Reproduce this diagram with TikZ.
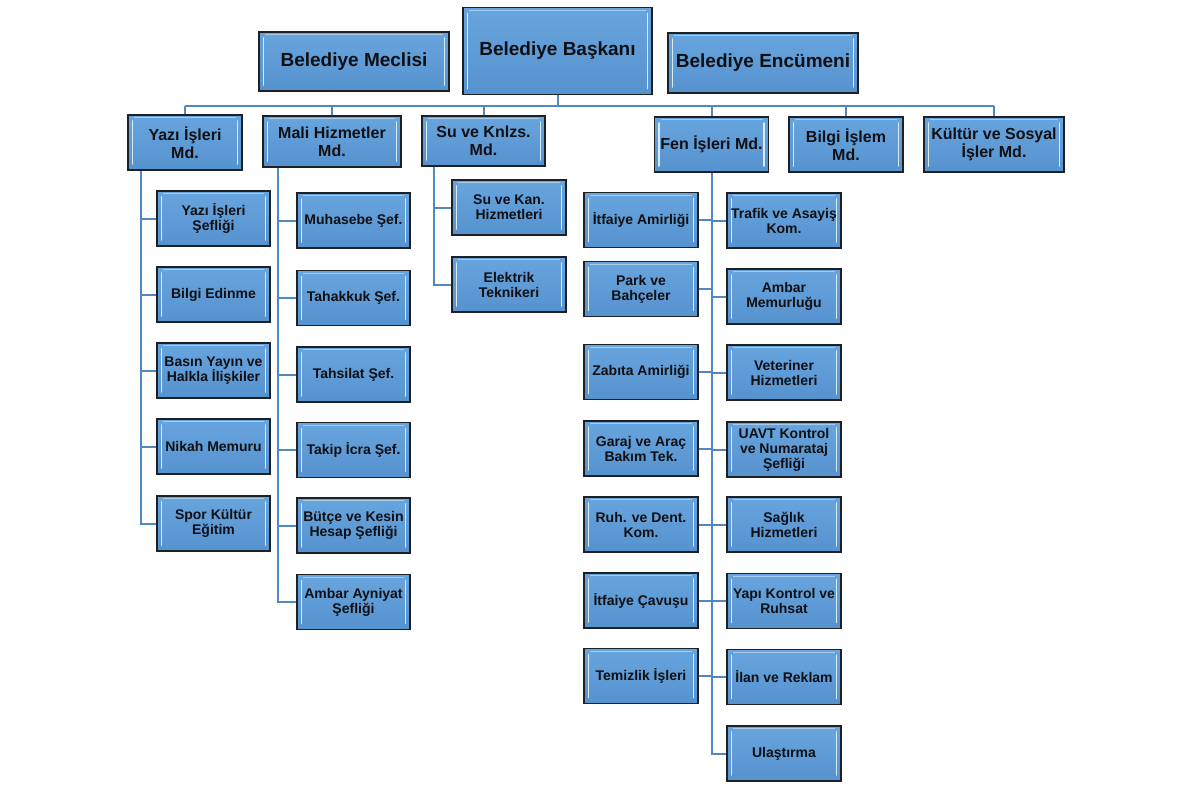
\documentclass[tikz,border=0pt]{standalone}
\usepackage{fontspec}
\setmainfont{Liberation Sans}
\definecolor{boxfill}{RGB}{93,155,214}
\definecolor{boxtop}{RGB}{104,165,222}
\definecolor{boxbot}{RGB}{86,146,206}
\definecolor{boxedge}{RGB}{30,32,36}
\definecolor{bevelhi}{RGB}{214,236,251}
\definecolor{linkcol}{RGB}{80,136,196}
\definecolor{txtcol}{RGB}{16,16,20}
\tikzset{
  orgbox/.style={rectangle, draw=boxedge, line width=1.3pt, top color=boxtop, bottom color=boxbot,
    align=center, inner sep=0pt, text=txtcol,
    path picture={
      \draw[bevelhi, line width=1.6pt, line cap=round]
        ([xshift=4.5pt,yshift=-6pt]path picture bounding box.north west) --
        ([xshift=4.5pt,yshift=6pt]path picture bounding box.south west);
      \draw[bevelhi, line width=1.6pt, line cap=round]
        ([xshift=-4.5pt,yshift=-6pt]path picture bounding box.north east) --
        ([xshift=-4.5pt,yshift=6pt]path picture bounding box.south east);
      \draw[bevelhi!60!boxfill, line width=0.8pt]
        ([xshift=6pt,yshift=-2.5pt]path picture bounding box.north west) --
        ([xshift=-6pt,yshift=-2.5pt]path picture bounding box.north east);
    }},
  topbox/.style={orgbox, font=\bfseries\fontsize{19}{21}\selectfont},
  mdbox/.style={orgbox, minimum width=114pt, font=\bfseries\fontsize{16}{18}\selectfont},
  subbox/.style={orgbox, minimum width=113pt, minimum height=55pt, font=\bfseries\fontsize{14}{15}\selectfont},
  link/.style={draw=linkcol, line width=2pt}
}
\begin{document}
\begin{tikzpicture}[x=1pt,y=-1pt]
\useasboundingbox (0,0) rectangle (1200,800);
% top level
\node[topbox, minimum width=190pt, minimum height=59pt] (mec) at (354,61.5) {Belediye Meclisi};
\node[topbox, minimum width=189pt, minimum height=87pt] (bas) at (557.5,51) {Belediye Başkanı};
\node[topbox, minimum width=190pt, minimum height=60pt] (enc) at (763,63) {Belediye Encümeni};
% directorates
\node[mdbox, minimum height=55pt] (yaz) at (185,142.5) {Yazı İşleri\\Md.};
\node[mdbox, minimum width=138pt, minimum height=51pt] (mal) at (332,141.5) {Mali Hizmetler\\Md.};
\node[mdbox, minimum width=123pt, minimum height=50pt] (su) at (483.5,141) {Su ve Knlzs.\\Md.};
\node[mdbox, minimum height=55pt] (fen) at (711.5,144.5) {Fen İşleri Md.};
\node[mdbox, minimum height=55pt] (bil) at (846,144.5) {Bilgi İşlem\\Md.};
\node[mdbox, minimum width=140pt, minimum height=55pt] (kul) at (994,144.5) {Kültür ve Sosyal\\İşler Md.};
% bus
\coordinate (busl) at (185,105.5);
\coordinate (busr) at (994,105.5);
\draw[link] (busl) -- (busr);
\draw[link] (bas.south) -- (bas.south |- busl);
\foreach \n in {yaz,mal,su,fen,bil,kul} {\draw[link] (\n.north) -- (\n.north |- busl);}
% Yazı İşleri children
\node[subbox] (y1) at (213.5,218.5) {Yazı İşleri\\Şefliği};
\node[subbox] (y2) at (213.5,294.5) {Bilgi Edinme};
\node[subbox] (y3) at (213.5,370.5) {Basın Yayın ve\\Halkla İlişkiler};
\node[subbox] (y4) at (213.5,446.5) {Nikah Memuru};
\node[subbox] (y5) at (213.5,523.5) {Spor Kültür\\Eğitim};
\coordinate (ys) at (141,0);
\draw[link] (yaz.south -| ys) |- (y5.west);
\foreach \n in {y1,y2,y3,y4} {\draw[link] (\n.west) -- (\n.west -| ys);}
% Mali children
\node[subbox] (m1) at (353.5,220.5) {Muhasebe Şef.};
\node[subbox] (m2) at (353.5,298) {Tahakkuk Şef.};
\node[subbox] (m3) at (353.5,374.5) {Tahsilat Şef.};
\node[subbox] (m4) at (353.5,450) {Takip İcra Şef.};
\node[subbox] (m5) at (353.5,525.5) {Bütçe ve Kesin\\Hesap Şefliği};
\node[subbox] (m6) at (353.5,602) {Ambar Ayniyat\\Şefliği};
\coordinate (ms) at (278,0);
\draw[link] (mal.south -| ms) |- (m6.west);
\foreach \n in {m1,m2,m3,m4,m5} {\draw[link] (\n.west) -- (\n.west -| ms);}
% Su children
\node[subbox, minimum width=114pt] (s1) at (509,207.5) {Su ve Kan.\\Hizmetleri};
\node[subbox, minimum width=114pt] (s2) at (509,284.5) {Elektrik\\Teknikeri};
\coordinate (ss) at (434,0);
\draw[link] (su.south -| ss) |- (s2.west);
\draw[link] (s1.west) -- (s1.west -| ss);
% Fen children
\node[subbox, minimum width=114pt] (fl1) at (641,220) {İtfaiye Amirliği};
\node[subbox, minimum width=114pt] (fl2) at (641,289) {Park ve\\Bahçeler};
\node[subbox, minimum width=114pt] (fl3) at (641,372) {Zabıta Amirliği};
\node[subbox, minimum width=114pt] (fl4) at (641,448.5) {Garaj ve Araç\\Bakım Tek.};
\node[subbox, minimum width=114pt] (fl5) at (641,524.5) {Ruh. ve Dent.\\Kom.};
\node[subbox, minimum width=114pt] (fl6) at (641,600.5) {İtfaiye Çavuşu};
\node[subbox, minimum width=114pt] (fl7) at (641,676) {Temizlik İşleri};
\node[subbox, minimum width=114pt] (fr1) at (784,220.5) {Trafik ve Asayiş\\Kom.};
\node[subbox, minimum width=114pt] (fr2) at (784,296.5) {Ambar\\Memurluğu};
\node[subbox, minimum width=114pt] (fr3) at (784,372.5) {Veteriner\\Hizmetleri};
\node[subbox, minimum width=114pt] (fr4) at (784,449.5) {UAVT Kontrol\\ve Numarataj\\Şefliği};
\node[subbox, minimum width=114pt] (fr5) at (784,524.5) {Sağlık\\Hizmetleri};
\node[subbox, minimum width=114pt] (fr6) at (784,601) {Yapı Kontrol ve\\Ruhsat};
\node[subbox, minimum width=114pt] (fr7) at (784,677) {İlan ve Reklam};
\node[subbox, minimum width=114pt] (fr8) at (784,753.5) {Ulaştırma};
\coordinate (fs) at (712,0);
\draw[link] (fen.south -| fs) |- (fr8.west);
\foreach \n in {fl1,fl2,fl3,fl4,fl5,fl6,fl7} {\draw[link] (\n.east) -- (\n.east -| fs);}
\foreach \n in {fr1,fr2,fr3,fr4,fr5,fr6,fr7} {\draw[link] (\n.west) -- (\n.west -| fs);}
\end{tikzpicture}
\end{document}
